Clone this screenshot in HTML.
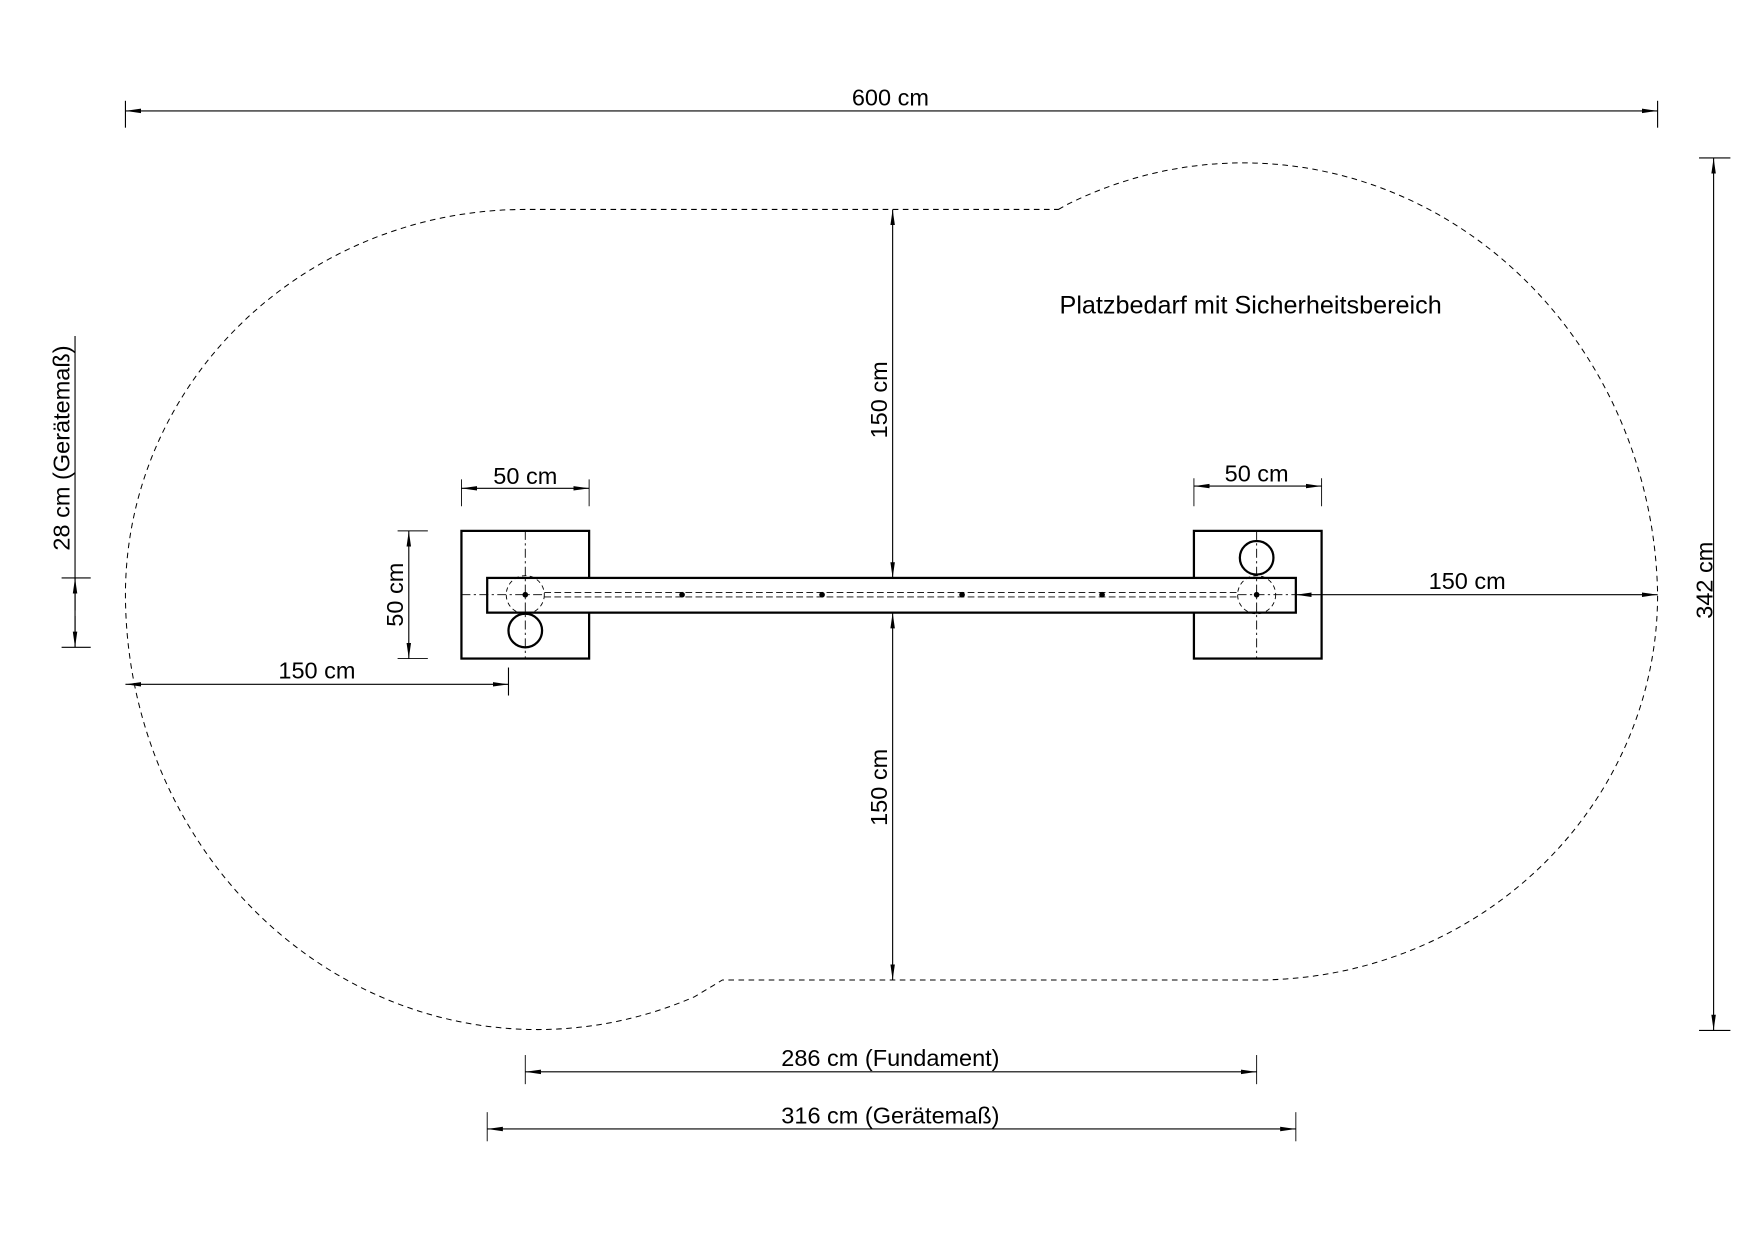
<!DOCTYPE html>
<html><head><meta charset="utf-8"><style>
html,body{margin:0;padding:0;background:#fff;}
svg{display:block;}
text{font-family:"Liberation Sans",sans-serif;fill:#000;}
</style></head><body>
<svg width="1754" height="1240" viewBox="0 0 1754 1240" xmlns="http://www.w3.org/2000/svg">
<defs>
<marker id="a" viewBox="0 0 14 6" refX="14" refY="3" markerWidth="14" markerHeight="6" markerUnits="userSpaceOnUse" orient="auto-start-reverse">
<path d="M0 1 L14 3 L0 5 Z" fill="#000"/></marker>
</defs>
<g transform="scale(1.12)" stroke="#000" fill="none">
<path d="M945 187 L952 183 A370 392 0 0 1 1480 531 A358 344 0 0 1 1122 875 L645 875 L620 890 A368 389 0 0 1 112 531 A357 344 0 0 1 469 187 Z" stroke-width="0.9" stroke-dasharray="5 4"/>
<line x1="112" y1="99" x2="1480" y2="99" stroke-width="1" marker-start="url(#a)" marker-end="url(#a)"/>
<line x1="112" y1="90" x2="112" y2="114" stroke-width="1"/>
<line x1="1480" y1="90" x2="1480" y2="114" stroke-width="1"/>
<line x1="1530" y1="141" x2="1530" y2="920" stroke-width="1" marker-start="url(#a)" marker-end="url(#a)"/>
<line x1="1517" y1="141" x2="1545" y2="141" stroke-width="1"/>
<line x1="1517" y1="920" x2="1545" y2="920" stroke-width="1"/>
<rect x="412" y="474" width="114" height="114" stroke-width="2"/>
<rect x="1066" y="474" width="114" height="114" stroke-width="2"/>
<rect x="435" y="516" width="722" height="31" stroke-width="2" fill="#fff"/>
<circle cx="469" cy="563" r="15" stroke-width="2"/>
<circle cx="1122" cy="498" r="15" stroke-width="2"/>
<circle cx="469" cy="531" r="17" stroke-width="0.8" stroke-dasharray="4 3"/>
<circle cx="1122" cy="531" r="17" stroke-width="0.8" stroke-dasharray="4 3"/>
<g stroke-width="0.8" stroke-dasharray="8 3 2 3">
<line x1="469" y1="474" x2="469" y2="588"/>
<line x1="412" y1="531" x2="486" y2="531"/>
<line x1="1122" y1="474" x2="1122" y2="588"/>
<line x1="1105" y1="531" x2="1157" y2="531"/>
</g>
<g stroke-width="0.8" stroke-dasharray="6 3">
<line x1="486" y1="529" x2="1105" y2="529"/>
<line x1="486" y1="533" x2="1105" y2="533"/>
</g>
<g fill="#000" stroke="none">
<circle cx="469" cy="531" r="2.5"/><circle cx="609" cy="531" r="2.5"/><circle cx="734" cy="531" r="2.5"/>
<circle cx="859" cy="531" r="2.5"/><circle cx="984" cy="531" r="2.5"/><circle cx="1122" cy="531" r="2.5"/>
</g>
<line x1="797" y1="187" x2="797" y2="516" stroke-width="1" marker-start="url(#a)" marker-end="url(#a)"/>
<line x1="797" y1="547" x2="797" y2="875" stroke-width="1" marker-start="url(#a)" marker-end="url(#a)"/>
<line x1="412" y1="436" x2="526" y2="436" stroke-width="1" marker-start="url(#a)" marker-end="url(#a)"/>
<line x1="412" y1="428" x2="412" y2="452" stroke-width="0.8"/><line x1="526" y1="428" x2="526" y2="452" stroke-width="0.8"/>
<line x1="1066" y1="434" x2="1180" y2="434" stroke-width="1" marker-start="url(#a)" marker-end="url(#a)"/>
<line x1="1066" y1="427" x2="1066" y2="452" stroke-width="0.8"/><line x1="1180" y1="427" x2="1180" y2="452" stroke-width="0.8"/>
<line x1="365" y1="474" x2="365" y2="588" stroke-width="1" marker-start="url(#a)" marker-end="url(#a)"/>
<line x1="355" y1="474" x2="382" y2="474" stroke-width="0.8"/><line x1="355" y1="588" x2="382" y2="588" stroke-width="0.8"/>
<line x1="112" y1="611" x2="454" y2="611" stroke-width="1" marker-start="url(#a)" marker-end="url(#a)"/>
<line x1="454" y1="596" x2="454" y2="621" stroke-width="1"/>
<line x1="1157" y1="531" x2="1480" y2="531" stroke-width="1" marker-start="url(#a)" marker-end="url(#a)"/>
<line x1="67" y1="300" x2="67" y2="578" stroke-width="1"/>
<line x1="67" y1="545" x2="67" y2="516" stroke-width="1" marker-end="url(#a)"/>
<line x1="67" y1="550" x2="67" y2="578" stroke-width="1" marker-end="url(#a)"/>
<line x1="55" y1="516" x2="81" y2="516" stroke-width="1"/><line x1="55" y1="578" x2="81" y2="578" stroke-width="1"/>
<line x1="469" y1="957" x2="1122" y2="957" stroke-width="1" marker-start="url(#a)" marker-end="url(#a)"/>
<line x1="469" y1="942" x2="469" y2="968" stroke-width="0.8"/><line x1="1122" y1="942" x2="1122" y2="968" stroke-width="0.8"/>
<line x1="435" y1="1008" x2="1157" y2="1008" stroke-width="1" marker-start="url(#a)" marker-end="url(#a)"/>
<line x1="435" y1="993" x2="435" y2="1019" stroke-width="0.8"/><line x1="1157" y1="993" x2="1157" y2="1019" stroke-width="0.8"/>
</g>
<g transform="scale(1.12)" font-size="21" text-anchor="middle">
<text x="795" y="94">600 cm</text>
<text x="469" y="432">50 cm</text>
<text x="1122" y="430">50 cm</text>
<text x="283" y="606">150 cm</text>
<text x="1310" y="526">150 cm</text>
<text x="795" y="952">286 cm (Fundament)</text>
<text x="795" y="1003">316 cm (Gerätemaß)</text>
<text x="946" y="280" text-anchor="start" font-size="22.5">Platzbedarf mit Sicherheitsbereich</text>
<text transform="translate(792,357) rotate(-90)">150 cm</text>
<text transform="translate(792,703) rotate(-90)">150 cm</text>
<text transform="translate(360,531) rotate(-90)">50 cm</text>
<text transform="translate(1529,518) rotate(-90)">342 cm</text>
<text transform="translate(62,400) rotate(-90)">28 cm (Gerätemaß)</text>
</g>
</svg>
</body></html>
